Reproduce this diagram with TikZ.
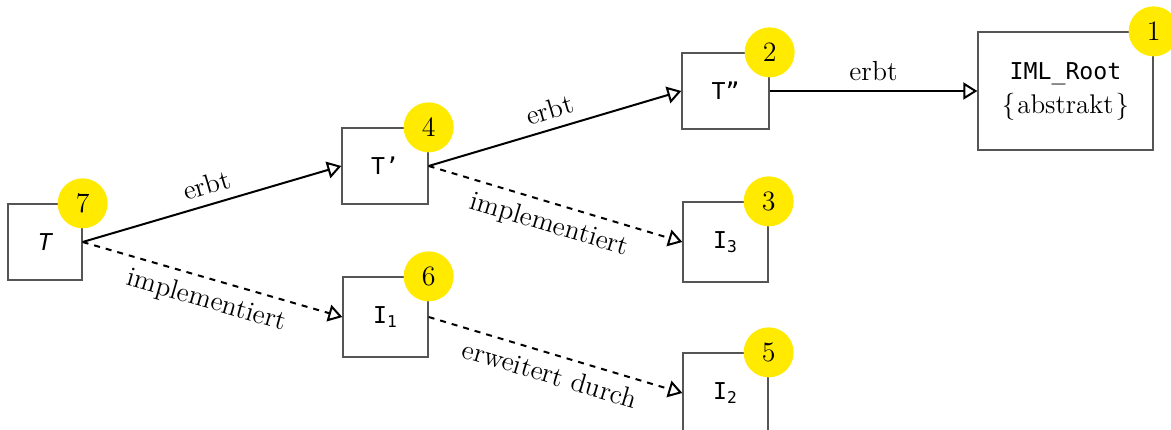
\documentclass[tikz,border=0pt]{standalone}
\usepackage{fontspec}
\usetikzlibrary{arrows.meta}
\newfontfamily\codefont{DejaVu Sans Mono}
\definecolor{Badge}{HTML}{FFEA00}
\definecolor{Frame}{HTML}{555555}

\begin{document}
\begin{tikzpicture}[x=0.5pt,y=0.5pt]
    \tikzset{cls/.style={draw=Frame,line width=0.65pt,minimum width=43pt,minimum height=38pt,
        inner sep=0pt,font=\codefont\fontsize{11.6}{14}\selectfont},
      badge/.style={circle,fill=Badge,minimum size=25pt,inner sep=0pt,
        font=\fontsize{14}{16}\selectfont},
      lbl/.style={font=\fontsize{13.8}{16}\selectfont,sloped,inner sep=4.5pt},
      inherit/.style={line width=1pt,-{Triangle[open,length=7pt,width=8.5pt,line width=1pt]}},
      realize/.style={inherit,dashed}}
    \clip (0,0) rectangle (1171,429);

    % classes and interfaces
    \node[cls,minimum width=37pt] (t) at (45,187) {\itshape T};
    \node[cls] (tp) at (385,263) {T’};
    \node[cls,minimum width=43.5pt] (tpp) at (725.5,338) {T”};
    \node[cls,minimum width=87.5pt,minimum height=59pt,align=center] (root) at (1065.5,338)
      {IML\_Root\\[3pt]{\rmfamily\fontsize{13.5}{16}\selectfont\{\kern1pt abstrakt\kern1pt\}}};
    \node[cls,minimum width=42.5pt,minimum height=40pt] (ithree) at (725.5,187) {I\textsubscript{3}};
    \node[cls,minimum width=42.5pt,minimum height=40pt] (ione) at (385.5,112) {I\textsubscript{1}};
    \node[cls,minimum width=42.5pt,minimum height=40pt] (itwo) at (725.5,36) {I\textsubscript{2}};

    % numbered markers
    \foreach \id/\n in {root/1,tpp/2,ithree/3,tp/4,itwo/5,ione/6,t/7}{
      \node[badge] (b\n) at (\id.north east) {\n};
    }

    % relations
    \draw[inherit] (t.east) -- node[lbl,above] {erbt} (tp.west);
    \draw[inherit] (tp.east) -- node[lbl,above] {erbt} (tpp.west);
    \draw[inherit] (tpp.east) -- node[lbl,above] {erbt} (root.west);
    \draw[realize] (tp.east) -- node[lbl,below] {implementiert} (ithree.west);
    \draw[realize] (t.east) -- node[lbl,below] {implementiert} (ione.west);
    \draw[realize] (ione.east) -- node[lbl,below] {erweitert durch} (itwo.west);
  \end{tikzpicture}
\end{document}
